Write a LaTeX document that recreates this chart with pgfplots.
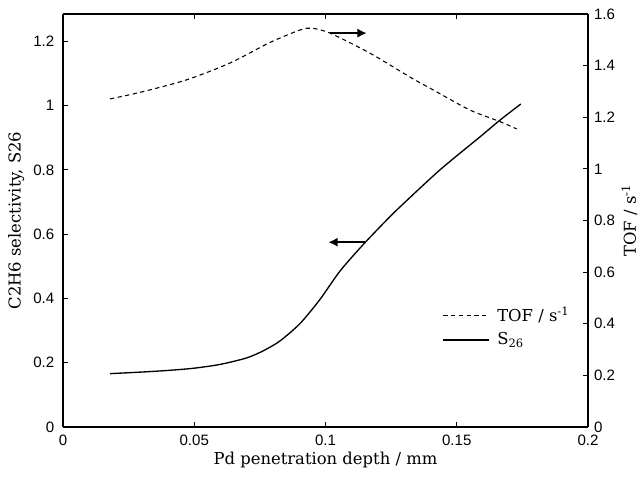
\documentclass[border=0pt]{standalone}
\usepackage{pgfplots}
\pgfplotsset{compat=1.18}
\usepackage{fontspec}
\setmainfont{DejaVu Serif}
\newfontfamily\ticksans{Liberation Sans}
\usetikzlibrary{arrows.meta}
\begin{document}
\begin{tikzpicture}[x=1pt,y=1pt]
\pgfplotsset{
  every axis/.append style={
    scale only axis, width=393.75pt, height=309.75pt,
    xmin=0, xmax=0.2,
    xtick={0,0.05,0.1,0.15,0.2},
    xticklabels={0,0.05,0.1,0.15,0.2},
    scaled ticks=false,
    tick align=inside,
    major tick length=3.5pt,
    tick style={line width=0.8pt, black},
    axis line style={line width=1.1pt},
    /pgf/number format/assume math mode=true,
    tick label style={font=\ticksans\fontsize{11.3}{13}\selectfont},
    label style={font=\fontsize{12.3}{14}\selectfont},
  },
}
\begin{axis}[
  at={(0,0)}, anchor=south west,
  ymin=0, ymax=1.285,
  ytick={0,0.2,0.4,0.6,0.8,1,1.2},
  yticklabels={0,0.2,0.4,0.6,0.8,1,1.2},
  axis y line*=left,
  axis x line*=box,
  xtick pos=both,
  xlabel={Pd penetration depth / mm},
  ylabel={C2H6 selectivity, S26},
  yticklabel style={xshift=-3pt},
  xticklabel style={yshift=-2.5pt},
  xlabel style={yshift=2pt},
  ylabel style={yshift=0pt},
]
\addplot[black, line width=1pt, smooth, tension=0.45] coordinates {
(0.0179,0.166) (0.03,0.171) (0.04,0.176) (0.05,0.183) (0.06,0.195)
(0.07,0.215) (0.0765,0.238) (0.0827,0.268) (0.0903,0.322) (0.0979,0.397)
(0.1055,0.485) (0.1144,0.568) (0.1233,0.644) (0.1284,0.685) (0.1436,0.800)
(0.1589,0.903) (0.1665,0.955) (0.1744,1.005)
};
\draw[line width=1.6pt, -{Latex[length=7pt,width=7pt]}] (axis cs:0.1152,0.575) -- (axis cs:0.1011,0.575);
\end{axis}
\begin{axis}[
  at={(0,0)}, anchor=south west,
  ymin=0, ymax=1.6,
  ytick={0,0.2,0.4,0.6,0.8,1,1.2,1.4,1.6},
  yticklabels={0,0.2,0.4,0.6,0.8,1,1.2,1.4,1.6},
  axis y line*=right,
  axis x line=none,
  ylabel={TOF / s\textsuperscript{-1}},
  yticklabel style={xshift=1pt},
  ylabel style={yshift=2pt},
  legend style={draw=none, fill=none, at={(0.715,0.242)}, anchor=west,
    font=\fontsize{12.3}{14}\selectfont, row sep=3pt, column sep=4pt},
  legend cell align=left,
  legend image code/.code={\draw[#1] (0pt,0pt) -- (34pt,0pt);},
]
\addplot[black, line width=0.8pt, dash pattern=on 3.2pt off 2.6pt, smooth, tension=0.45] coordinates {
(0.0179,1.271) (0.03,1.298) (0.0471,1.345) (0.0636,1.41) (0.0789,1.49)
(0.0903,1.538) (0.0947,1.545) (0.1017,1.526) (0.117,1.448) (0.1328,1.352)
(0.141,1.306) (0.155,1.228) (0.1665,1.183) (0.1728,1.155)
};
\addlegendentry{TOF / s\textsuperscript{-1}}
\addlegendimage{black, line width=1pt}
\addlegendentry{S\textsubscript{26}}
\draw[line width=1.6pt, -{Latex[length=7pt,width=7pt]}] (axis cs:0.1017,1.526) -- (axis cs:0.1157,1.526);
\end{axis}
\pgfresetboundingbox
\path[use as bounding box] (-47.25pt,-36.75pt) rectangle ++(480pt,357pt);
\end{tikzpicture}
\end{document}
